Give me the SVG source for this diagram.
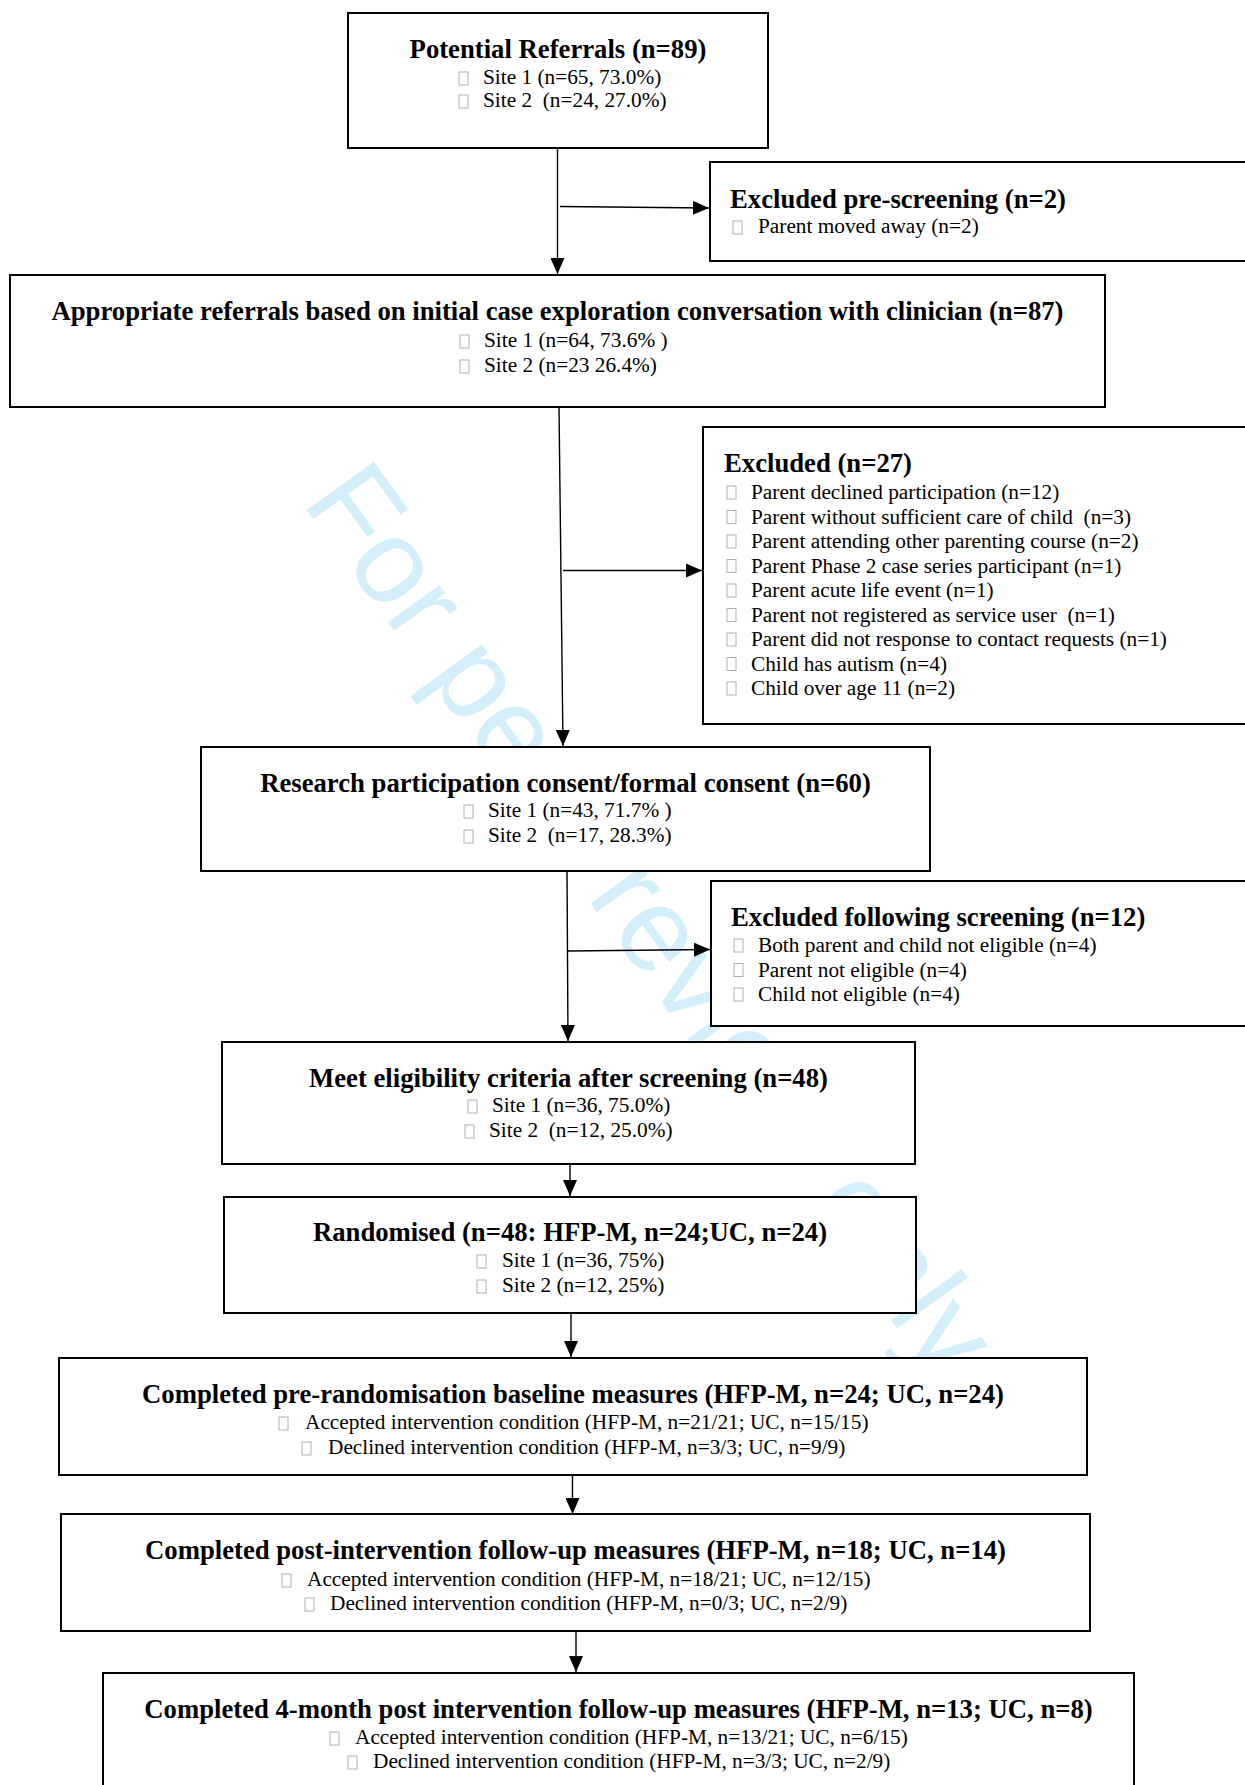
<svg xmlns="http://www.w3.org/2000/svg" width="1245" height="1785" viewBox="0 0 1245 1785">
<style>
text{white-space:pre}
.box{fill:#fff;stroke:#000;stroke-width:2}
.t{font-family:"Liberation Serif","Times New Roman",serif;font-weight:bold;font-size:26.7px;fill:#000}
.tc{text-anchor:middle}
.s{font-family:"Liberation Serif","Times New Roman",serif;font-size:21.3px;fill:#000}
.se{font-family:"Liberation Serif","Times New Roman",serif;font-size:21.3px;fill:#000}
.et{font-family:"Liberation Serif","Times New Roman",serif;font-weight:bold;font-size:26.7px;fill:#000}
.b{fill:none;stroke:#b0b0b0;stroke-width:1}
.c{fill:none;stroke:#000;stroke-width:1.4}
.wm{font-family:"Liberation Sans",Arial,sans-serif;font-size:120px;fill:#d3effb}
</style>
<defs>
<marker id="ah" markerUnits="userSpaceOnUse" markerWidth="16" markerHeight="14" refX="16" refY="7" orient="auto">
<path d="M0,0 L16,7 L0,14 z" fill="#000"/>
</marker>
</defs>
<text class="wm" transform="translate(301,502) rotate(54.2)">For peer review only</text>
<g id="connectors">
<line class="c" x1="557.5" y1="148" x2="557.5" y2="274" marker-end="url(#ah)"/>
<line class="c" x1="560" y1="206.5" x2="709" y2="208" marker-end="url(#ah)"/>
<line class="c" x1="559" y1="407" x2="563" y2="746" marker-end="url(#ah)"/>
<line class="c" x1="563" y1="570.5" x2="702" y2="570.5" marker-end="url(#ah)"/>
<line class="c" x1="567" y1="871" x2="568" y2="1041" marker-end="url(#ah)"/>
<line class="c" x1="568" y1="951" x2="710" y2="949.5" marker-end="url(#ah)"/>
<line class="c" x1="570" y1="1164" x2="570" y2="1196" marker-end="url(#ah)"/>
<line class="c" x1="571" y1="1313" x2="571" y2="1357" marker-end="url(#ah)"/>
<line class="c" x1="572.5" y1="1475" x2="572.5" y2="1514" marker-end="url(#ah)"/>
<line class="c" x1="576" y1="1631" x2="576" y2="1672" marker-end="url(#ah)"/>
</g>
<g id="potential">
<rect class="box" x="348" y="13" width="420" height="135"/>
<text class="t tc" x="558" y="58">Potential Referrals (n=89)</text>
<rect class="b" x="459" y="72" width="9" height="13"/>
<text class="s" x="483" y="84">Site 1 (n=65, 73.0%)</text>
<rect class="b" x="459" y="95" width="9" height="13"/>
<text class="s" x="483" y="107">Site 2  (n=24, 27.0%)</text>
</g>
<g id="excluded-prescreening">
<rect class="box" x="710" y="162" width="600" height="99"/>
<text class="et" x="730" y="208">Excluded pre-screening (n=2)</text>
<rect class="b" x="733" y="221" width="9" height="13"/>
<text class="se" x="758" y="233">Parent moved away (n=2)</text>
</g>
<g id="appropriate">
<rect class="box" x="10" y="275" width="1095" height="132"/>
<text class="t tc" x="557.5" y="320">Appropriate referrals based on initial case exploration conversation with clinician (n=87)</text>
<rect class="b" x="460" y="335" width="9" height="13"/>
<text class="s" x="484" y="347">Site 1 (n=64, 73.6% )</text>
<rect class="b" x="460" y="360" width="9" height="13"/>
<text class="s" x="484" y="372">Site 2 (n=23 26.4%)</text>
</g>
<g id="excluded-27">
<rect class="box" x="703" y="427" width="600" height="297"/>
<text class="et" x="724" y="472">Excluded (n=27)</text>
<rect class="b" x="727" y="486" width="9" height="13"/>
<text class="se" x="751" y="499">Parent declined participation (n=12)</text>
<rect class="b" x="727" y="510.5" width="9" height="13"/>
<text class="se" x="751" y="523.5">Parent without sufficient care of child  (n=3)</text>
<rect class="b" x="727" y="535" width="9" height="13"/>
<text class="se" x="751" y="548">Parent attending other parenting course (n=2)</text>
<rect class="b" x="727" y="559.5" width="9" height="13"/>
<text class="se" x="751" y="572.5">Parent Phase 2 case series participant (n=1)</text>
<rect class="b" x="727" y="584" width="9" height="13"/>
<text class="se" x="751" y="597">Parent acute life event (n=1)</text>
<rect class="b" x="727" y="608.5" width="9" height="13"/>
<text class="se" x="751" y="621.5">Parent not registered as service user  (n=1)</text>
<rect class="b" x="727" y="633" width="9" height="13"/>
<text class="se" x="751" y="646">Parent did not response to contact requests (n=1)</text>
<rect class="b" x="727" y="657.5" width="9" height="13"/>
<text class="se" x="751" y="670.5">Child has autism (n=4)</text>
<rect class="b" x="727" y="682" width="9" height="13"/>
<text class="se" x="751" y="695">Child over age 11 (n=2)</text>
</g>
<g id="consent">
<rect class="box" x="201" y="747" width="729" height="124"/>
<text class="t tc" x="565.5" y="792">Research participation consent/formal consent (n=60)</text>
<rect class="b" x="464" y="805" width="9" height="13"/>
<text class="s" x="488" y="817">Site 1 (n=43, 71.7% )</text>
<rect class="b" x="464" y="830" width="9" height="13"/>
<text class="s" x="488" y="842">Site 2  (n=17, 28.3%)</text>
</g>
<g id="excluded-screening">
<rect class="box" x="711" y="881" width="600" height="145"/>
<text class="et" x="731" y="926">Excluded following screening (n=12)</text>
<rect class="b" x="734" y="939" width="9" height="13"/>
<text class="se" x="758" y="952">Both parent and child not eligible (n=4)</text>
<rect class="b" x="734" y="963.5" width="9" height="13"/>
<text class="se" x="758" y="976.5">Parent not eligible (n=4)</text>
<rect class="b" x="734" y="988" width="9" height="13"/>
<text class="se" x="758" y="1001">Child not eligible (n=4)</text>
</g>
<g id="eligible">
<rect class="box" x="222" y="1042" width="693" height="122"/>
<text class="t tc" x="568.5" y="1087">Meet eligibility criteria after screening (n=48)</text>
<rect class="b" x="468" y="1100" width="9" height="13"/>
<text class="s" x="492" y="1112">Site 1 (n=36, 75.0%)</text>
<rect class="b" x="465" y="1125" width="9" height="13"/>
<text class="s" x="489" y="1137">Site 2  (n=12, 25.0%)</text>
</g>
<g id="randomised">
<rect class="box" x="224" y="1197" width="692" height="116"/>
<text class="t tc" x="570" y="1241">Randomised (n=48: HFP-M, n=24;UC, n=24)</text>
<rect class="b" x="477" y="1255" width="9" height="13"/>
<text class="s" x="502" y="1267">Site 1 (n=36, 75%)</text>
<rect class="b" x="477" y="1280" width="9" height="13"/>
<text class="s" x="502" y="1292">Site 2 (n=12, 25%)</text>
</g>
<g id="baseline">
<rect class="box" x="59" y="1358" width="1028" height="117"/>
<text class="t tc" x="573" y="1403">Completed pre-randomisation baseline measures (HFP-M, n=24; UC, n=24)</text>
<rect class="b" x="279" y="1417" width="9" height="13"/>
<text class="s" x="305" y="1429">Accepted intervention condition (HFP-M, n=21/21; UC, n=15/15)</text>
<rect class="b" x="302" y="1442" width="9" height="13"/>
<text class="s" x="328" y="1454">Declined intervention condition (HFP-M, n=3/3; UC, n=9/9)</text>
</g>
<g id="post">
<rect class="box" x="61" y="1514" width="1029" height="117"/>
<text class="t tc" x="575.5" y="1559">Completed post-intervention follow-up measures (HFP-M, n=18; UC, n=14)</text>
<rect class="b" x="282" y="1574" width="9" height="13"/>
<text class="s" x="307" y="1586">Accepted intervention condition (HFP-M, n=18/21; UC, n=12/15)</text>
<rect class="b" x="305" y="1598" width="9" height="13"/>
<text class="s" x="330" y="1610">Declined intervention condition (HFP-M, n=0/3; UC, n=2/9)</text>
</g>
<g id="fourmonth">
<rect class="box" x="103" y="1673" width="1031" height="140"/>
<text class="t tc" x="618.5" y="1718">Completed 4-month post intervention follow-up measures (HFP-M, n=13; UC, n=8)</text>
<rect class="b" x="330" y="1732" width="9" height="13"/>
<text class="s" x="355" y="1744">Accepted intervention condition (HFP-M, n=13/21; UC, n=6/15)</text>
<rect class="b" x="348" y="1756" width="9" height="13"/>
<text class="s" x="373" y="1768">Declined intervention condition (HFP-M, n=3/3; UC, n=2/9)</text>
</g>
</svg>
